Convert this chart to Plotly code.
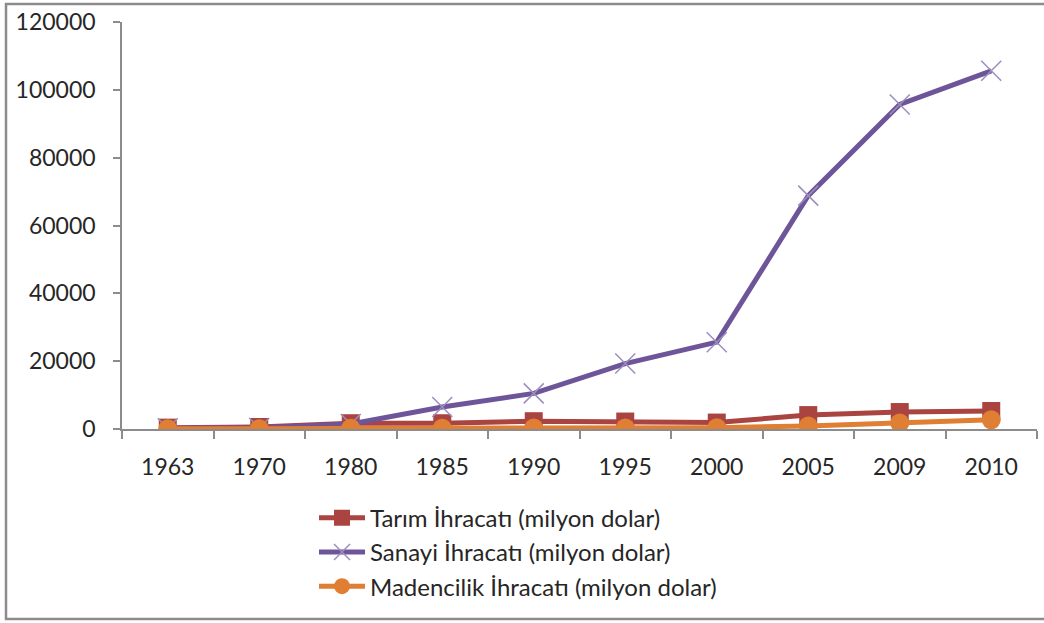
import plotly.graph_objects as go

# Data
years = ["1963", "1970", "1980", "1985", "1990", "1995", "2000", "2005", "2009", "2010"]
tarim = [400, 600, 1700, 1700, 2300, 2200, 1900, 4100, 5000, 5300]
sanayi = [200, 300, 1500, 6500, 10500, 19300, 25600, 68800, 95700, 105600]
madencilik = [50, 100, 200, 250, 300, 300, 400, 900, 1800, 2700]

names = [
    "Tarım İhracatı (milyon dolar)",
    "Sanayi İhracatı (milyon dolar)",
    "Madencilik İhracatı (milyon dolar)",
]
y_ticks = [0, 20000, 40000, 60000, 80000, 100000, 120000]

FONT = "Lato, 'Open Sans', sans-serif"

fig = go.Figure()

fig.add_trace(go.Scatter(
    x=years, y=tarim, name=names[0], mode="lines+markers",
    line=dict(color="#A94441", width=5),
    marker=dict(symbol="square", size=18, color="#A94441"),
))
fig.add_trace(go.Scatter(
    x=years, y=sanayi, name=names[1], mode="lines+markers",
    line=dict(color="#6E559A", width=5),
    marker=dict(symbol="x-thin", size=20, color="#9C8DBC",
                line=dict(width=1.5, color="#9C8DBC")),
))
fig.add_trace(go.Scatter(
    x=years, y=madencilik, name=names[2], mode="lines+markers",
    line=dict(color="#E07E34", width=5),
    marker=dict(symbol="circle", size=19, color="#E07E34"),
))

# outer chart border
fig.add_shape(type="rect", xref="paper", yref="paper",
              x0=(6 - 122) / 915, x1=(1050 - 122) / 915,
              y0=(429 - 620) / 409, y1=(429 - 2) / 409,
              line=dict(color="#8C8C8C", width=2.5), fillcolor="rgba(0,0,0,0)",
              layer="below")

fig.update_layout(
    width=1044, height=623,
    margin=dict(l=122, r=7, t=20, b=194),
    paper_bgcolor="white", plot_bgcolor="white",
    font=dict(family=FONT, size=23, color="#262626"),
    showlegend=True,
    legend=dict(
        x=(314 - 122) / 915, y=(429 - 496) / 409,
        xanchor="left", yanchor="top",
        font=dict(family=FONT, size=24, color="#262626"),
        itemwidth=46, tracegroupgap=0,
        bgcolor="rgba(0,0,0,0)",
    ),
)

fig.update_xaxes(
    type="category", showgrid=False, showline=True,
    linecolor="#8C8C8C", linewidth=1.5,
    ticks="outside", tickson="boundaries", ticklen=8,
    tickcolor="#8C8C8C", tickwidth=1.5,
    ticklabelstandoff=17,
    tickfont=dict(size=23),
    range=[-0.5, len(years) - 0.5],
)
fig.update_yaxes(
    range=[0, 120000], tickvals=y_ticks, tickformat="d",
    showgrid=False, zeroline=False,
    showline=True, linecolor="#8C8C8C", linewidth=1.5,
    ticks="outside", ticklen=7, tickcolor="#8C8C8C", tickwidth=1.5,
    ticklabelstandoff=13,
    tickfont=dict(size=23),
)

fig.write_html("out.html", config={"displayModeBar": False},
               post_script="document.body.style.margin='0';")
